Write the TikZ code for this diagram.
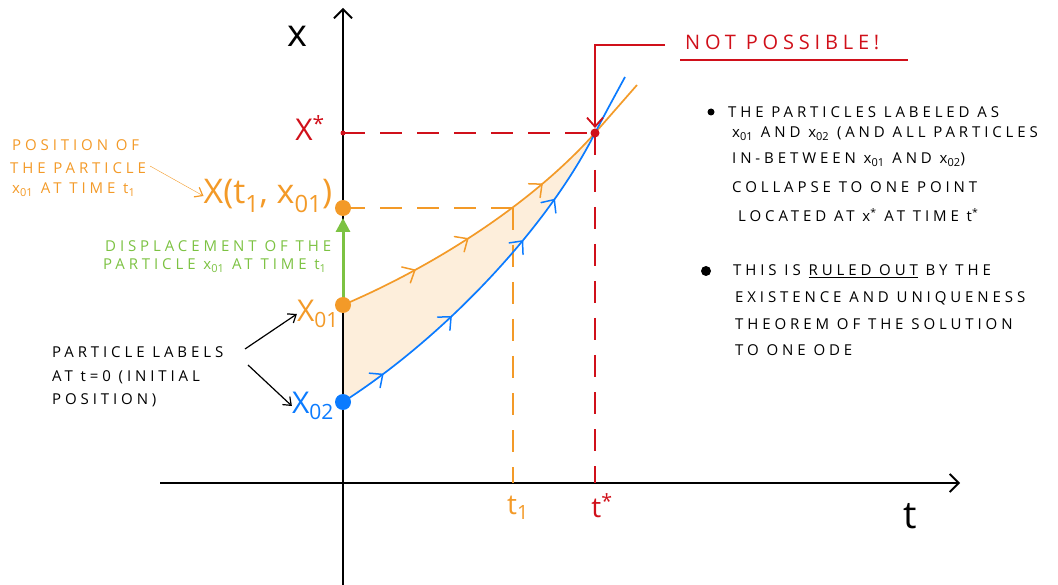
\documentclass[tikz,border=0pt]{standalone}
\usepackage{fontspec}
\setmainfont{Open Sans}
\usetikzlibrary{arrows.meta,decorations.markings}
\definecolor{orng}{HTML}{F39A28}
\definecolor{blu}{HTML}{0B7BFF}
\definecolor{rd}{HTML}{D0101A}
\definecolor{grn}{HTML}{7CC242}
\definecolor{lightorng}{HTML}{FDEEDB}
\newcommand{\sbs}[1]{\textsubscript{\fontsize{11}{11}\selectfont\addfontfeature{LetterSpace=0}#1}}
\newcommand{\chev}{\draw[line width=1.5pt,line cap=round,line join=round] (-10pt,-9pt) -- (0pt,0pt) -- (-10pt,9pt);}
\begin{document}
\begin{tikzpicture}[x=1pt,y=-1pt,
  axisline/.style={line width=1.8pt,-{Straight Barb[length=9pt,width=18pt,line width=1.8pt]}},
  dashln/.style={line width=1.3pt,dash pattern=on 22pt off 15pt},
  barb/.style={-{Straight Barb[length=7pt,width=11pt,line width=1.2pt]}},
  curve/.style={line width=1.7pt},
  txt/.style={inner sep=0pt,anchor=west,font=\fontsize{15}{15}\selectfont\addfontfeature{LetterSpace=26}},
  bigtxt/.style={inner sep=0pt,font=\fontsize{38}{38}\selectfont},
  orngtips/.style={decoration={markings,
     mark=at position 0.26 with {\chev},
     mark=at position 0.46 with {\chev},
     mark=at position 0.76 with {\chev}},postaction={decorate}},
  blutips/.style={decoration={markings,
     mark=at position 0.13 with {\chev},
     mark=at position 0.37 with {\chev},
     mark=at position 0.65 with {\chev},
     mark=at position 0.79 with {\chev}},postaction={decorate}}
]
\useasboundingbox (0,0) rectangle (1058,585);
% key points
\coordinate (ybot) at (343,585);
\coordinate (ytop) at (343,8);
\coordinate (xlft) at (160,483);
\coordinate (xrgt) at (960,483);
\coordinate (X01) at (343,305);
\coordinate (X02) at (343,402);
\coordinate (P1) at (343,208);
\coordinate (P1b) at (343,218);
\coordinate (M) at (595,133);
\coordinate (Q1) at (513,208);
\coordinate (Xs) at (343,133);
\coordinate (T1) at (513,483);
\coordinate (Ts) at (595,483);
\coordinate (Oend) at (637,85);
\coordinate (Bend) at (625,77);
\coordinate (npc) at (665,45);
% shading
\fill[lightorng] (X01) .. controls (430,268) and (530,206) .. (M) .. controls (545,232) and (440,340) .. (X02) -- cycle;
% axes
\draw[axisline] (ybot) -- (ytop);
\draw[axisline] (xlft) -- (xrgt);
% dashed guides
\draw[rd,dashln] (Xs) -- (M);
\draw[rd,dashln] (M) -- (Ts);
\draw[orng,dashln] (P1) -- (Q1);
\draw[orng,dashln] (Q1) -- (T1);
% curves
\draw[orng,curve,orngtips] (X01) .. controls (430,268) and (530,206) .. (M);
\draw[orng,curve] (M) -- (Oend);
\draw[blu,curve,blutips] (X02) .. controls (440,340) and (545,232) .. (M);
\draw[blu,curve] (M) .. controls (606,112) .. (Bend);
% green displacement
\draw[grn,line width=3pt,-{Triangle[length=14pt,width=14pt]}] (X01) -- (P1b);
% dots
\fill[orng] (X01) circle (8pt);
\fill[orng] (P1) circle (8pt);
\fill[blu] (X02) circle (8pt);
\fill[rd] (Xs) circle (2.5pt);
\fill[rd] (M) circle (4.5pt);
% axis labels
\node[bigtxt] (xlab) at (297,36) {x};
\node[bigtxt] (tlab) at (910,516) {t};
\node[inner sep=0pt,rd,font=\fontsize{30}{30}\selectfont] (xstar) at (310,128) {X\textsuperscript{*}};
\node[inner sep=0pt,orng,font=\fontsize{28}{28}\selectfont] (t1lab) at (518,508) {t\textsubscript{1}};
\node[inner sep=0pt,rd,font=\fontsize{28}{28}\selectfont] (tslab) at (602,506) {t\textsuperscript{*}};
\node[inner sep=0pt,orng,font=\fontsize{30}{30}\selectfont] (x01lab) at (318,314) {X\textsubscript{01}};
\node[inner sep=0pt,blu,font=\fontsize{30}{30}\selectfont] (x02lab) at (313,406) {X\textsubscript{02}};
\node[inner sep=0pt,orng,font=\fontsize{34}{34}\selectfont] (Xt) at (268,196) {X(t\textsubscript{1}, x\textsubscript{01})};
% left orange text
\node[txt,orng] (po1) at (12,145) {POSITION OF};
\node[txt,orng] (po2) at (10,168) {THE PARTICLE};
\node[txt,orng] (po3) at (12,190) {x\sbs{01} AT TIME t\sbs{1}};
\draw[orng,barb] (150,166) -- (Xt.west);
% green text
\node[txt,grn] (gr1) at (105,246) {DISPLACEMENT OF THE};
\node[txt,grn] (gr2) at (103,266) {PARTICLE x\sbs{01} AT TIME t\sbs{1}};
% black text
\node[txt] (pl1) at (52,352) {PARTICLE LABELS};
\node[txt] (pl2) at (52,377) {AT t=0 (INITIAL};
\node[txt] (pl3) at (52,400) {POSITION)};
\draw[barb,line width=1.2pt] (245,349) -- (x01lab.west);
\draw[barb,line width=1.2pt] (248,365) -- (x02lab.west);
% not possible
\node[inner sep=0pt,anchor=west,rd,font=\fontsize{20}{20}\selectfont\addfontfeature{LetterSpace=24}] (np) at (685,42) {NOT POSSIBLE!};
\draw[rd,line width=1.8pt] (680,60) -- (908,60);
\draw[rd,line width=1.8pt,-{Straight Barb[length=9pt,width=16pt,line width=1.8pt]},shorten >=5pt] (npc) -| (M);
% right text
\fill (711,112) circle (3.5pt);
\node[txt] (r1) at (728,112) {THE PARTICLES LABELED AS};
\node[txt] (r2) at (732,134) {x\sbs{01} AND x\sbs{02} (AND ALL PARTICLES};
\node[txt] (r3) at (732,160) {IN-BETWEEN x\sbs{01} AND x\sbs{02})};
\node[txt] (r4) at (732,187) {COLLAPSE TO ONE POINT};
\node[txt] (r5) at (738,215) {LOCATED AT x\textsuperscript{*} AT TIME t\textsuperscript{*}};
\fill (706,271) circle (5pt);
\node[txt] (r6) at (733,271) {THIS IS \underline{RULED OUT} BY THE};
\node[txt] (r7) at (735,298) {EXISTENCE AND UNIQUENESS};
\node[txt] (r8) at (735,324) {THEOREM OF THE SOLUTION};
\node[txt] (r9) at (735,350) {TO ONE ODE};
\end{tikzpicture}
\end{document}
